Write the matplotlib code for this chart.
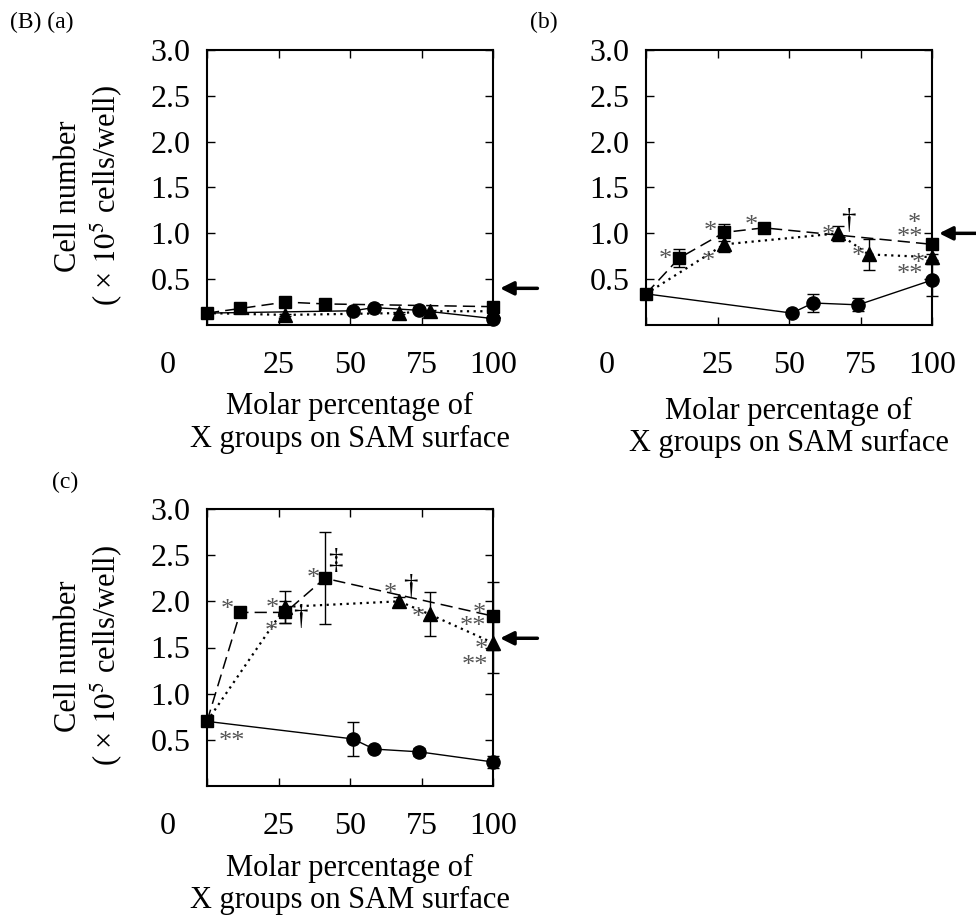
import matplotlib
matplotlib.use("Agg")
import matplotlib.pyplot as plt

plt.rcParams['font.family'] = ['Liberation Serif', 'DejaVu Serif']
plt.rcParams['mathtext.fontset'] = 'stix'

# x positions (molar %) of the three series
sq_x = [0, 11.6, 27.4, 41.2, 100]
tri_x = [0, 27.4, 67.2, 77.8, 100]
circ_x = [0, 51.0, 58.4, 74.2, 100]

# panel (a)
sq_a = [0.13, 0.18, 0.25, 0.23, 0.20]
sq_a_err = [0.0, 0.02, 0.02, 0.02, 0.02]
tri_a = [0.13, 0.11, 0.13, 0.15, 0.15]
tri_a_err = [0.0, 0.01, 0.01, 0.01, 0.01]
circ_a = [0.13, 0.155, 0.19, 0.16, 0.07]
circ_a_err = [0.0, 0.01, 0.01, 0.01, 0.01]

# panel (b)
sq_b = [0.34, 0.73, 1.01, 1.06, 0.88]
sq_b_err = [0.0, 0.10, 0.09, 0.03, 0.03]
tri_b = [0.34, 0.88, 1.00, 0.77, 0.74]
tri_b_err = [0.0, 0.08, 0.08, 0.17, 0.03]
circ_b = [0.34, 0.13, 0.24, 0.22, 0.49]
circ_b_err = [0.0, 0.02, 0.10, 0.07, 0.17]

# panel (c)
sq_c = [0.70, 1.88, 1.88, 2.25, 1.84]
sq_c_err = [0.0, 0.03, 0.12, 0.50, 0.37]
tri_c = [0.70, 1.94, 2.00, 1.86, 1.55]
tri_c_err = [0.0, 0.17, 0.05, 0.24, 0.33]
circ_c = [0.70, 0.51, 0.40, 0.37, 0.26]
circ_c_err = [0.0, 0.18, 0.03, 0.04, 0.07]

# significance marks: (x, y, text)
marks_b = [(6.6, 0.78, '*'), (22.4, 1.09, '*'), (21.8, 0.76, '*'), (37.0, 1.16, '*'),
           (63.7, 1.05, '*'), (70.7, 1.14, '†'), (94.0, 1.18, '*'), (92.3, 1.03, '**'),
           (74.2, 0.82, '*'), (95.2, 0.74, '*'), (92.3, 0.62, '**')]
marks_c = [(7.1, 1.98, '*'), (23.0, 1.99, '*'), (22.6, 1.74, '*'), (32.5, 1.83, '†'),
           (37.2, 2.32, '*'), (44.8, 2.44, '‡'), (64.0, 2.16, '*'), (71.0, 2.16, '†'),
           (73.9, 1.89, '*'), (95.2, 1.94, '*'), (93.0, 1.80, '**'), (96.0, 1.55, '*'),
           (93.7, 1.38, '**'), (8.6, 0.55, '**')]

xticks = [0, 25, 50, 75, 100]
yticks = [0.5, 1.0, 1.5, 2.0, 2.5, 3.0]
xlabel = 'Molar percentage of\nX groups on SAM surface'
ylabel = 'Cell number\n( × $10^5$ cells/well)'

W, H = 976, 918
fig = plt.figure(figsize=(W / 100, H / 100), dpi=100)
FS = 23
LFS = 22


def panel(rect, sq, sq_err, tri, tri_err, circ, circ_err, marks, arrow_y, with_ylabel, xl_y):
    ax = fig.add_axes(rect)
    # lines
    ax.plot(circ_x, circ, '-', color='k', lw=1.0, zorder=2)
    ax.plot(tri_x, tri, color='k', lw=1.6, dashes=(1.0, 2.0), zorder=2)
    ax.plot(sq_x, sq, color='k', lw=1.1, dashes=(8, 4), zorder=2)
    # error bars
    for x, y, e in [(circ_x, circ, circ_err), (tri_x, tri, tri_err), (sq_x, sq, sq_err)]:
        ax.errorbar(x, y, yerr=e, fmt='none', ecolor='k', elinewidth=1.0,
                    capsize=4.5, capthick=1.0, clip_on=False, zorder=3)
    # markers
    ax.plot(circ_x[1:], circ[1:], 'o', color='k', ms=9.5, clip_on=False, zorder=4)
    ax.plot(tri_x[1:], tri[1:], '^', color='k', ms=10, clip_on=False, zorder=4)
    ax.plot(sq_x, sq, 's', color='k', ms=9, clip_on=False, zorder=5)

    for x, y, t in marks:
        if t == '*' or t == '**':
            ax.annotate(t, (x, y), xytext=(0, -5), textcoords='offset points',
                        ha='center', va='center', fontsize=19, color='#555555',
                        annotation_clip=False)
        else:
            ax.annotate(t, (x, y), ha='center', va='center', fontsize=21,
                        color='k', annotation_clip=False)

    ax.annotate('', xy=(101.5, arrow_y), xytext=(116.5, arrow_y),
                arrowprops=dict(arrowstyle='-|>', lw=2.5, color='k', mutation_scale=20),
                annotation_clip=False)

    ax.set_xlim(0, 100)
    ax.set_ylim(0, 3.0)
    ax.set_xticks(xticks)
    ax.set_xticklabels(['', '25', '50', '75', '100'])
    ax.set_yticks(yticks)
    ax.set_yticklabels(['%.1f' % v for v in yticks])
    ax.tick_params(direction='in', top=True, right=True, length=6, width=1.0,
                   labelsize=FS)
    ax.tick_params(axis='x', pad=19)
    ax.tick_params(axis='y', pad=12)
    for s in ax.spines.values():
        s.set_linewidth(1.5)
    ax.text(-13.6, -19 * 1.389 / (rect[3] * H), '0', transform=ax.get_xaxis_transform(),
            ha='center', va='top', fontsize=FS)
    ax.text(0.5, xl_y, xlabel, transform=ax.transAxes, ha='center', va='top',
            fontsize=LFS, linespacing=1.15)
    if with_ylabel:
        ax.text(-0.41, 0.47, ylabel, transform=ax.transAxes, rotation=90,
                ha='center', va='center', multialignment='center',
                fontsize=LFS, linespacing=1.2)
    return ax


panel([207 / W, 1 - 325 / H, 286 / W, 275 / H], sq_a, sq_a_err, tri_a, tri_a_err,
      circ_a, circ_a_err, [], 0.40, True, -0.245)
panel([646 / W, 1 - 325 / H, 286 / W, 275 / H], sq_b, sq_b_err, tri_b, tri_b_err,
      circ_b, circ_b_err, marks_b, 1.0, False, -0.262)
panel([207 / W, 1 - 786 / H, 286 / W, 277 / H], sq_c, sq_c_err, tri_c, tri_c_err,
      circ_c, circ_c_err, marks_c, 1.60, True, -0.245)

fig.text(10 / W, 1 - 12 / H, '(B) (a)', ha='left', va='top', fontsize=17)
fig.text(530 / W, 1 - 12 / H, '(b)', ha='left', va='top', fontsize=17)
fig.text(52 / W, 1 - 472 / H, '(c)', ha='left', va='top', fontsize=17)

fig.savefig('out.png', dpi=100)
